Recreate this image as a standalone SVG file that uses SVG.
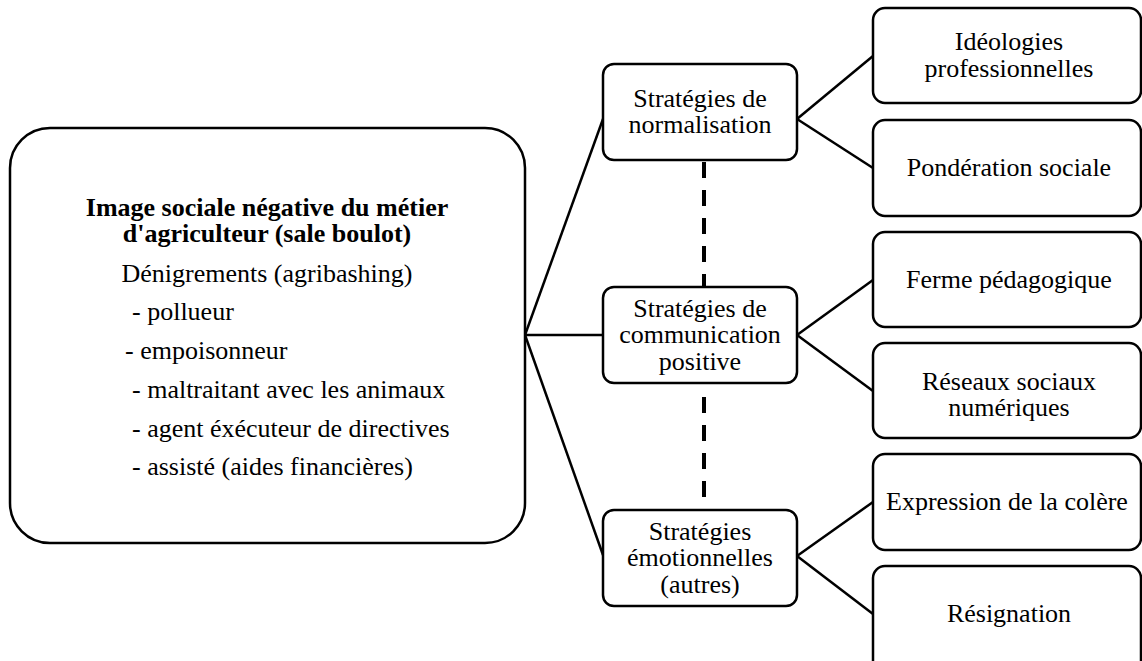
<svg xmlns="http://www.w3.org/2000/svg" width="1142" height="661" viewBox="0 0 1142 661">
<style>
.box{fill:#fff;stroke:#000;stroke-width:2.5}
.t{font-family:"Liberation Serif","Times New Roman",serif;font-size:26px;fill:#000}
.c{text-anchor:middle}
.b{font-weight:bold}
.ln{stroke:#000;stroke-width:2.5;fill:none}
.dash{stroke:#000;stroke-width:4;stroke-dasharray:16 12;fill:none}
</style>
<rect width="1142" height="661" fill="#fff"/>
<g id="connectors">
<line class="ln" x1="525" y1="335" x2="603" y2="119"/>
<line class="ln" x1="525" y1="335" x2="603" y2="335"/>
<line class="ln" x1="525" y1="335" x2="603" y2="555"/>
<line class="ln" x1="797" y1="119" x2="873" y2="56"/>
<line class="ln" x1="797" y1="119" x2="873" y2="168"/>
<line class="ln" x1="797" y1="335" x2="873" y2="280"/>
<line class="ln" x1="797" y1="335" x2="873" y2="391"/>
<line class="ln" x1="797" y1="556" x2="873" y2="502"/>
<line class="ln" x1="797" y1="556" x2="873" y2="614"/>
<line class="dash" x1="704" y1="162" x2="704" y2="287"/>
<line class="dash" x1="704" y1="397" x2="704" y2="512"/>
</g>
<g id="main">
<rect class="box" x="10" y="128" width="515" height="415" rx="40"/>
<text class="t c b" x="267" y="216">Image sociale négative du métier</text>
<text class="t c b" x="267" y="242">d'agriculteur (sale boulot)</text>
<text class="t c" x="267" y="282">Dénigrements (agribashing)</text>
<text class="t" x="132" y="320">- pollueur</text>
<text class="t" x="125" y="359">- empoisonneur</text>
<text class="t" x="132" y="398">- maltraitant avec les animaux</text>
<text class="t" x="132" y="437">- agent éxécuteur de directives</text>
<text class="t" x="132" y="475">- assisté (aides financières)</text>
</g>
<g id="normalisation">
<rect class="box" x="603" y="64" width="194" height="96" rx="11"/>
<text class="t c" x="700" y="107">Stratégies de</text>
<text class="t c" x="700" y="133">normalisation</text>
</g>
<g id="communication">
<rect class="box" x="603" y="287" width="194" height="96" rx="11"/>
<text class="t c" x="700" y="317">Stratégies de</text>
<text class="t c" x="700" y="343">communication</text>
<text class="t c" x="700" y="370">positive</text>
</g>
<g id="emotionnelles">
<rect class="box" x="603" y="510" width="194" height="96" rx="11"/>
<text class="t c" x="700" y="540">Stratégies</text>
<text class="t c" x="700" y="566">émotionnelles</text>
<text class="t c" x="700" y="593">(autres)</text>
</g>
<g id="ideologies">
<rect class="box" x="873" y="8" width="268" height="95" rx="12"/>
<text class="t c" x="1009" y="50">Idéologies</text>
<text class="t c" x="1009" y="77">professionnelles</text>
</g>
<g id="ponderation">
<rect class="box" x="873" y="120" width="268" height="96" rx="12"/>
<text class="t c" x="1009" y="176">Pondération sociale</text>
</g>
<g id="ferme">
<rect class="box" x="873" y="232" width="268" height="95" rx="12"/>
<text class="t c" x="1009" y="288">Ferme pédagogique</text>
</g>
<g id="reseaux">
<rect class="box" x="873" y="343" width="268" height="95" rx="12"/>
<text class="t c" x="1009" y="390">Réseaux sociaux</text>
<text class="t c" x="1009" y="416">numériques</text>
</g>
<g id="colere">
<rect class="box" x="873" y="454" width="268" height="96" rx="12"/>
<text class="t c" x="1007" y="510">Expression de la colère</text>
</g>
<g id="resignation">
<rect class="box" x="873" y="566" width="268" height="110" rx="12"/>
<text class="t c" x="1009" y="622">Résignation</text>
</g>
</svg>
